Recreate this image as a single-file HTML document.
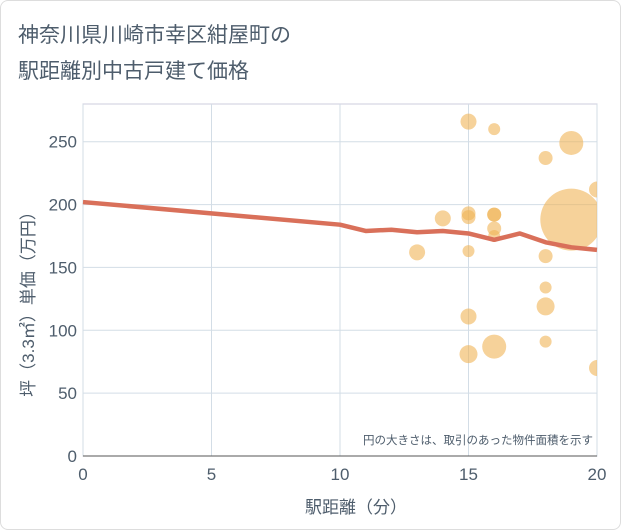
<!DOCTYPE html>
<html><head><meta charset="utf-8"><style>
body{margin:0;background:#fff;font-family:"Liberation Sans","Noto Sans CJK JP",sans-serif;}
#wrap{position:relative;width:619px;height:528px;border:1px solid #ddd;border-radius:8px;overflow:hidden;}
</style></head><body>
<div id="wrap">
<svg id="c" width="621" height="530" style="position:absolute;left:-1px;top:-1px"></svg>
</div>
<script>
const xTicks=[0,5,10,15,20];
const yTicks=[0,50,100,150,200,250];
const lineX=[0,10,11,12,13,14,15,16,17,18,19,20];
const lineY=[202,184,179,180,178,179,177,172,177,170,166,164];
const bubX=[15,16,19,18,20,19,14,15,15,16,16,16,16,13,15,18,18,18,15,16,15,18,20];
const bubY=[266,260,249,237,212,188,189,193,190,192,192,181,175,162,163,159,134,119,111,87,81,91,70];
const bubR=[8,6,12,7,8,31,8,7,7,7,7,7,6,8,6,7,6,9,8,12,9,6,8];
const L=83,R=597,T=104,B=456;
const TC='#4e5d6c';
const sx=v=>L+(R-L)*v/20, sy=v=>B-(B-T)*v/280;
const ns="http://www.w3.org/2000/svg", svg=document.getElementById('c');
function mk(t,a,p){const e=document.createElementNS(ns,t);for(const k in a)e.setAttribute(k,a[k]);(p||svg).appendChild(e);return e;}
const t1=mk('text',{x:18,y:42,fill:TC,'font-size':21});t1.textContent='神奈川県川崎市幸区紺屋町の';


const t2=mk('text',{x:18,y:78,fill:TC,'font-size':21});t2.textContent='駅距離別中古戸建て価格';


const plot=mk('rect',{x:L,y:T,width:R-L,height:B-T,fill:'#fff',stroke:'#ccd'});


xTicks.forEach(v=>{const g=mk('line',{x1:sx(v),x2:sx(v),y1:T,y2:B,stroke:'#d3dde6'});


const t=mk('text',{x:sx(v),y:B+24,'text-anchor':'middle',fill:TC,'font-size':17});t.textContent=v;

});
yTicks.forEach(v=>{const g=mk('line',{x1:L,x2:R,y1:sy(v),y2:sy(v),stroke:'#d3dde6'});


const t=mk('text',{x:L-6,y:sy(v)+6,'text-anchor':'end',fill:TC,'font-size':17});t.textContent=v;

});
const clip=mk('clipPath',{id:'cp'});mk('rect',{x:L,y:T,width:R-L,height:B-T},clip);
const bg=mk('g',{'clip-path':'url(#cp)'});
bubX.forEach((x,i)=>{const c=mk('circle',{cx:sx(x),cy:sy(bubY[i]),r:bubR[i],fill:'#f0b456','fill-opacity':0.6},bg);

});
const pl=mk('polyline',{points:lineX.map((x,i)=>sx(x)+','+sy(lineY[i])).join(' '),fill:'none',stroke:'#d9705a','stroke-width':4.5,'stroke-linejoin':'round'});


mk('line',{x1:L,x2:R,y1:B,y2:B,stroke:'#555'});
const n=mk('text',{x:R-4,y:B-12,'text-anchor':'end',fill:TC,'font-size':11.5});n.textContent='円の大きさは、取引のあった物件面積を示す';


const xt=mk('text',{x:356,y:513,'text-anchor':'middle',fill:TC,'font-size':17});xt.textContent='駅距離（分）';


const yt=mk('text',{x:0,y:0,'text-anchor':'middle',fill:TC,'font-size':17,transform:`translate(34,${(T+B)/2+20}) rotate(-90)`});yt.textContent='坪（3.3㎡）単価（万円）';


</script>
</body></html>
